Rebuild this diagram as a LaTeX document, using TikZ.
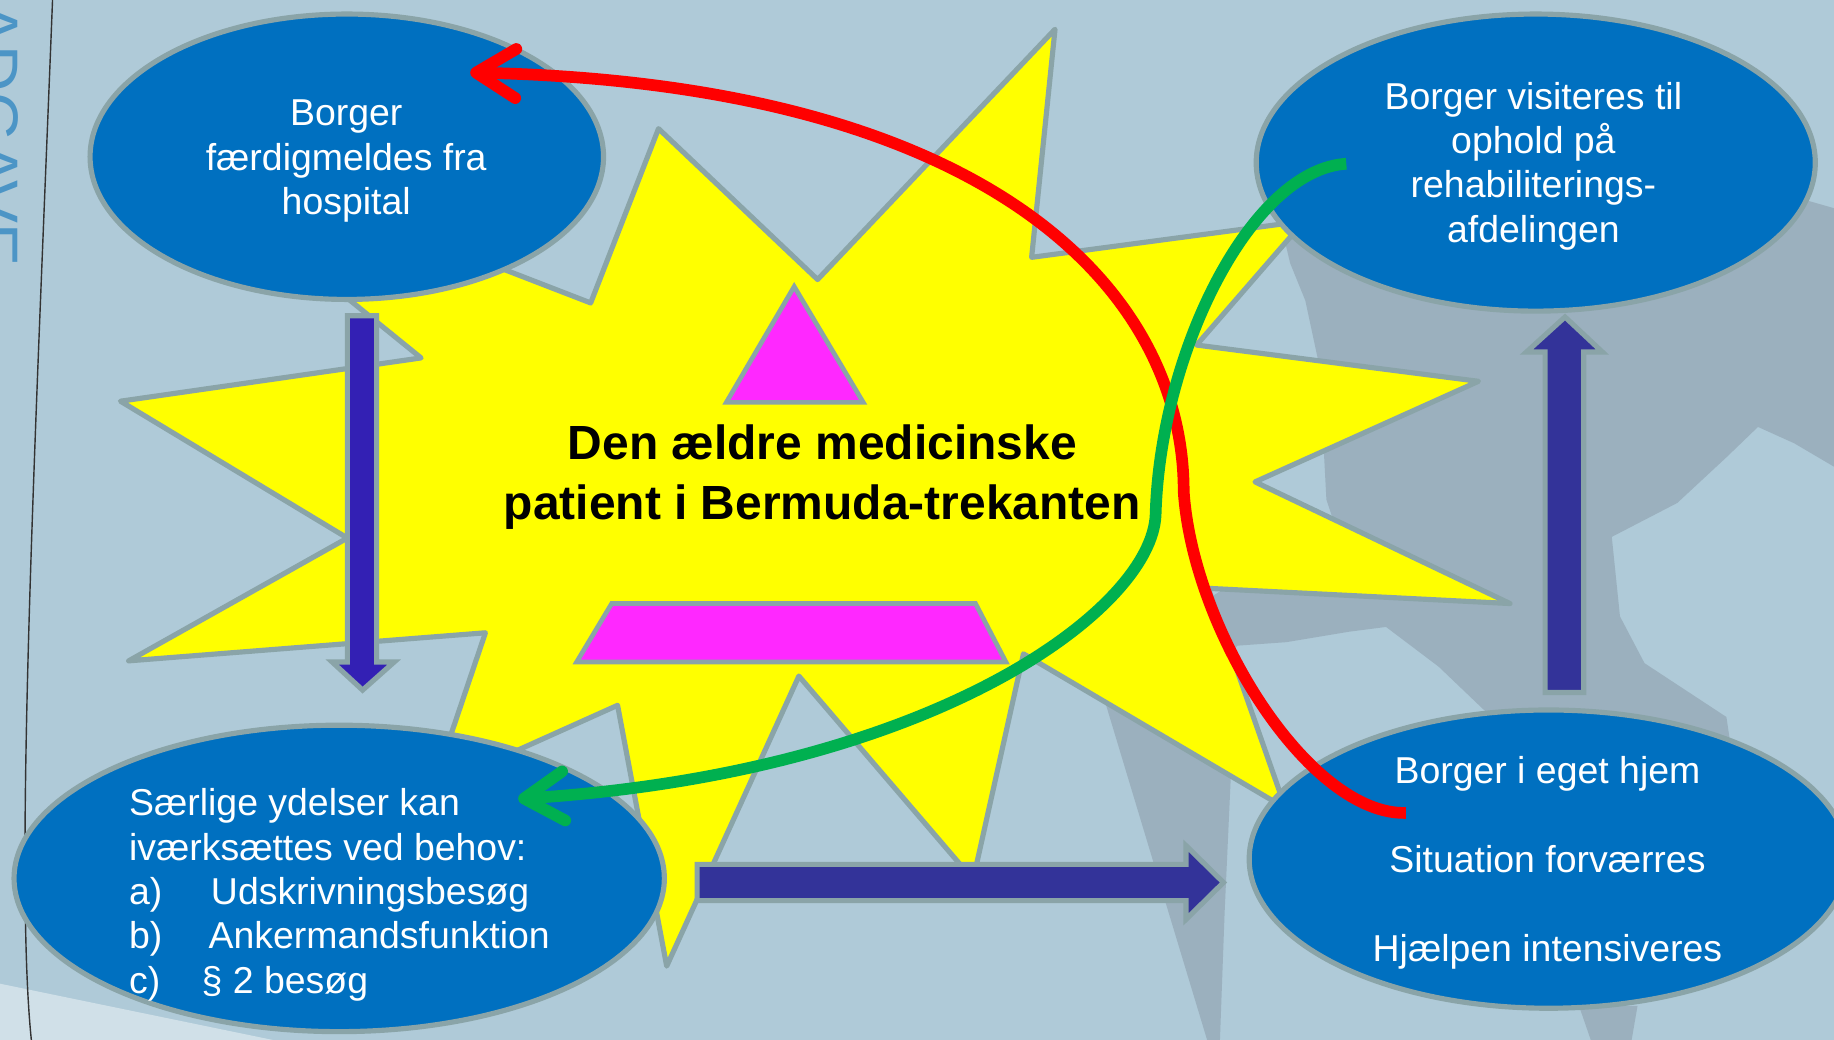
\documentclass[tikz,border=0pt]{standalone}
\usepackage{fontspec}
\setmainfont{Liberation Sans}
\usetikzlibrary{arrows.meta,shapes.geometric}
\definecolor{bg}{HTML}{AFCAD8}
\definecolor{bgdark}{HTML}{9BB0BE}
\definecolor{bglight}{HTML}{D0E0E8}
\definecolor{ellfill}{HTML}{0070C0}
\definecolor{edgegray}{HTML}{8AA4A8}
\definecolor{magentaf}{HTML}{FF28FF}
\definecolor{yel}{RGB}{255,255,0}
\definecolor{redc}{RGB}{255,0,0}
\definecolor{arrowblue}{HTML}{333399}
\definecolor{arrowviolet}{HTML}{3320B4}
\definecolor{greenc}{HTML}{00B050}
\definecolor{wmark}{HTML}{4C95C6}
\begin{document}
\begin{tikzpicture}[x=0.5pt,y=-0.5pt,
  bubble/.style={ellipse, draw=edgegray, line width=2.2pt, fill=ellfill, inner sep=0pt, outer sep=0pt},
  btext/.style={text=white, font=\fontsize{16pt}{19pt}\selectfont, align=center, inner sep=0pt},
  starshape/.style={draw=edgegray, fill=yel, line width=2.2pt, line join=round},
  pinkshape/.style={draw=edgegray, fill=magentaf, line width=2pt, line join=miter},
  blockarrow/.style={draw=edgegray, line width=2.2pt, line join=miter},
  curvearrow/.style={line width=5pt, line cap=butt, -{Straight Barb[length=17pt,width=21pt,line join=round,line cap=round]}},
  silhouette/.style={fill=bgdark}]
\useasboundingbox (0,0) rectangle (1568,889);
\clip (0,0) rectangle (1568,889);
\fill[bg] (0,0) rectangle (1568,889);
% background silhouette
\fill[silhouette] (1090,170) -- (1103,225) -- (1116,257) -- (1128,313) -- (1134,427) -- (1140,445)
  -- (1100,470) -- (1020,520) -- (1040,570) -- (1058,552) -- (1100,549) -- (1154,540) -- (1185,536)
  -- (1230,570) -- (1274,612) -- (1480,640) -- (1476,613) -- (1406,567) -- (1385,527) -- (1378,459)
  -- (1434,430) -- (1476,391) -- (1503,365) -- (1534,379) -- (1568,399) -- (1568,178) -- (1540,170) -- cycle;
\fill[silhouette] (930,570) -- (1058,556) -- (1052,670) -- (1047,780) -- (1043,889) -- (1032,889)
  -- (990,750) -- (946,604) -- cycle;
\fill[silhouette] (1350,860) -- (1400,860) -- (1395,889) -- (1360,889) -- cycle;
\fill[bglight] (0,841) -- (320,907) -- (0,907) -- cycle;
\draw[black!80, line width=0.6pt] (45,-2) .. controls (30,380) and (12,750) .. (27,891);
\node[rotate=-90, anchor=south, text=wmark, font=\fontsize{27.5pt}{30pt}\selectfont, inner sep=0pt] (wm) at (-24,115) {ADGAVE};
% star
\draw[starshape] (902,25) -- (882,220) -- (1115,189) -- (1023,295) -- (1264,326) -- (1073,412)
  -- (1291,516) -- (1033,503) -- (1099,691) -- (875,559) -- (832,752) -- (683,578) -- (570,826)
  -- (528,603) -- (370,674) -- (415,541) -- (110,565) -- (297,460) -- (103,343) -- (360,306)
  -- (117,109) -- (505,259) -- (563,110) -- (699,239) -- cycle;
\draw[pinkshape] (679,245) -- (738,344) -- (621,344) -- cycle;
\draw[pinkshape] (523,516) -- (834,516) -- (860,566) -- (493,566) -- cycle;
% ellipses
\node[bubble, minimum width=219.5pt, minimum height=122pt] (hosp) at (296.5,134) {};
\node[bubble, minimum width=239pt, minimum height=127pt] (rehab) at (1313,139) {};
\node[bubble, minimum width=278pt, minimum height=131pt] (ydel) at (290,751) {};
\node[bubble, minimum width=256pt, minimum height=127.5pt] (hjem) at (1324,734.5) {};
% block arrows
\draw[blockarrow, fill=arrowviolet] (297,270) -- (322,270) -- (322,566) -- (337,566) -- (310,590) -- (284,566) -- (297,566) -- cycle;
\draw[blockarrow, fill=arrowblue] (596,739) -- (1014,739) -- (1014,723) -- (1046,754.5) -- (1014,786) -- (1014,770) -- (596,770) -- cycle;
\draw[blockarrow, fill=arrowblue] (1321,592) -- (1321,301) -- (1305,301) -- (1338,271) -- (1370,301) -- (1354,301) -- (1354,592) -- cycle;
% texts
\node[btext] (t1) at (296,138) {Borger\\færdigmeldes fra\\hospital};
\node[btext] (t2) at (1311,142) {Borger visiteres til\\ophold på\\rehabiliterings-\\afdelingen};
\node[btext, align=left, anchor=west] (t3) at (110,765) {Særlige ydelser kan\\iværksættes ved behov:\\\makebox[35pt][l]{a)}Udskrivningsbesøg\\\makebox[34pt][l]{b)}Ankermandsfunktion\\\makebox[31pt][l]{c)}§ 2 besøg};
\node[btext] (t4) at (1323,738) {Borger i eget hjem\\[19pt]Situation forværres\\[19pt]Hjælpen intensiveres};
\node[inner sep=0pt, align=center, font=\bfseries\fontsize{20.5pt}{25.5pt}\selectfont] (title) at (703,408) {Den ældre medicinske\\patient i Bermuda-trekanten};
% curved connectors
\coordinate (rs) at (1202,695);
\coordinate (re) at (402,62);
\coordinate (gs) at (1151,140);
\coordinate (ge) at (443,683);
\draw[curvearrow, redc] (rs) .. controls (1120,697) and (1020,540) .. (1012,420) .. controls (1012,250) and (850,72) .. (re);
\draw[curvearrow, greenc] (gs) .. controls (1070,145) and (992,300) .. (988,440) .. controls (985,520) and (800,660) .. (ge);
\end{tikzpicture}
\end{document}
